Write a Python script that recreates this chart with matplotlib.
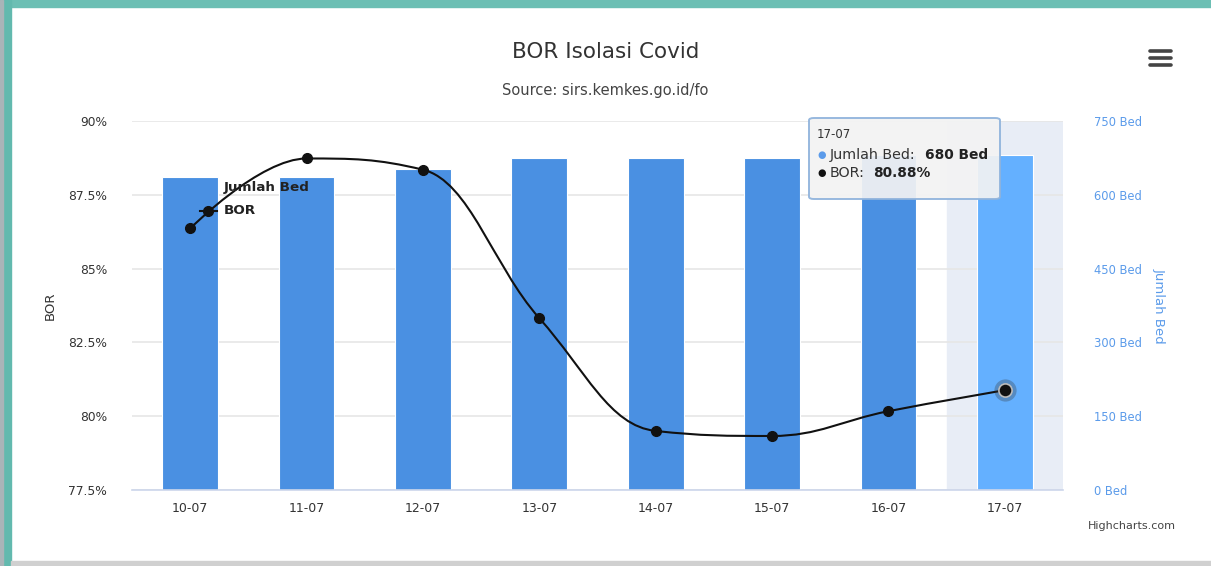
import matplotlib
matplotlib.use('Agg')
import matplotlib.pyplot as plt
import matplotlib.patches as mpatches
from matplotlib.path import Path
import numpy as np

plt.rcParams['font.family'] = ['DejaVu Sans']

# ---------------- data ----------------
dates = ['10-07', '11-07', '12-07', '13-07', '14-07', '15-07', '16-07', '17-07']
jumlah_bed = [637, 637, 652, 675, 675, 675, 680, 680]
bor = [86.36, 88.73, 88.35, 83.32, 79.50, 79.33, 80.17, 80.88]

bor_ticks = [77.5, 80, 82.5, 85, 87.5, 90]
bor_tick_labels = ['77.5%', '80%', '82.5%', '85%', '87.5%', '90%']
bed_ticks = [0, 150, 300, 450, 600, 750]
bed_tick_labels = ['0 Bed', '150 Bed', '300 Bed', '450 Bed', '600 Bed', '750 Bed']

W, H = 1211, 566
bar_color = '#4a90e2'
hover_color = '#64b0ff'
axis_blue = '#5b9bea'


def fx(px):
    return px / W


def fy(py):
    return 1 - py / H


def spline_path(xs, ys, smoothing=1.5):
    """cubic bezier path like the highcharts spline"""
    denom = smoothing + 1
    n = len(xs)
    right = [None] * n
    verts = [(xs[0], ys[0])]
    codes = [Path.MOVETO]
    for i in range(1, n):
        x, y = xs[i], ys[i]
        lc = None
        if i < n - 1:
            lx, ly = xs[i - 1], ys[i - 1]
            nx, ny = xs[i + 1], ys[i + 1]
            lcx = (smoothing * x + lx) / denom
            lcy = (smoothing * y + ly) / denom
            rcx = (smoothing * x + nx) / denom
            rcy = (smoothing * y + ny) / denom
            corr = (rcy - lcy) * (rcx - x) / (rcx - lcx) + y - rcy
            lcy += corr
            rcy += corr
            if lcy > ly and lcy > y:
                lcy = max(ly, y)
                rcy = 2 * y - lcy
            elif lcy < ly and lcy < y:
                lcy = min(ly, y)
                rcy = 2 * y - lcy
            if rcy > ny and rcy > y:
                rcy = max(ny, y)
                lcy = 2 * y - rcy
            elif rcy < ny and rcy < y:
                rcy = min(ny, y)
                lcy = 2 * y - rcy
            lc = (lcx, lcy)
            right[i] = (rcx, rcy)
        c1 = right[i - 1] if right[i - 1] is not None else (xs[i - 1], ys[i - 1])
        c2 = lc if lc is not None else (x, y)
        verts += [c1, c2, (x, y)]
        codes += [Path.CURVE4] * 3
    return Path(verts, codes)


fig = plt.figure(figsize=(W / 100, H / 100), dpi=100)
fig.patch.set_facecolor('white')

ax2 = fig.add_axes([fx(132), fy(490), fx(1063) - fx(132), fy(121) - fy(490)])
ax = ax2.twinx()
ax.set_zorder(ax2.get_zorder() + 1)
ax.patch.set_visible(False)
ax.yaxis.tick_left()
ax.yaxis.set_label_position('left')
ax2.yaxis.tick_right()
ax2.yaxis.set_label_position('right')

x = np.arange(len(dates))

# hover band + bars
ax2.axvspan(x[-1] - 0.5, x[-1] + 0.5, color='#e8edf6', zorder=0)
colors = [bar_color] * (len(dates) - 1) + [hover_color]
ax2.bar(x, jumlah_bed, width=0.48, color=colors, edgecolor='white', linewidth=0.8, zorder=2)

ax2.set_xlim(-0.5, len(dates) - 0.5)
ax2.set_ylim(0, 750)
ax2.set_yticks(bed_ticks)
ax2.set_yticklabels(bed_tick_labels)
ax2.grid(axis='y', color='#e6e6e6', linewidth=1.2, zorder=1)
ax2.set_axisbelow(True)
ax2.set_xticks(x)
ax2.set_xticklabels(dates)
ax2.tick_params(axis='x', length=0, pad=9, labelsize=9, labelcolor='#333333')
ax2.tick_params(axis='y', length=0, pad=22, labelsize=8.3, labelcolor=axis_blue)
ax2.set_ylabel('Jumlah Bed', color=axis_blue, fontsize=9.5, rotation=270, labelpad=17)
for s in ['top', 'left', 'right']:
    ax2.spines[s].set_visible(False)
ax2.spines['bottom'].set_color('#ccd6eb')
ax2.spines['bottom'].set_linewidth(1.2)

# BOR line
ax.set_ylim(77.5, 90)
ax.set_yticks(bor_ticks)
ax.set_yticklabels(bor_tick_labels)
ax.tick_params(axis='y', length=0, pad=18, labelsize=8.8, labelcolor='#333333')
ax.set_ylabel('BOR', fontsize=9.5, color='#333333', labelpad=8)
for s in ax.spines.values():
    s.set_visible(False)

ax.add_patch(mpatches.PathPatch(spline_path(list(x), bor), facecolor='none',
                                edgecolor='#111111', linewidth=1.5, zorder=3))
ax.plot(x, bor, linestyle='none', marker='o', markersize=7, color='#111111', zorder=4)
ax.plot(x[-1:], bor[-1:], linestyle='none', marker='o', markersize=16,
        color='#333333', alpha=0.3, markeredgewidth=0, zorder=4)
ax.plot(x[-1:], bor[-1:], linestyle='none', marker='o', markersize=9.5,
        color='#111111', markeredgecolor='#bbbbbb', markeredgewidth=1.2, zorder=5)

# legend (floating)
fig.add_artist(mpatches.Rectangle((fx(202), fy(193)), fx(12), fy(181) - fy(193), color=bar_color))
fig.text(fx(224), fy(187), 'Jumlah Bed', fontsize=9.7, fontweight='bold', color='#222222', va='center')
fig.add_artist(plt.Line2D([fx(200), fx(217)], [fy(211), fy(211)], color='#111111', linewidth=1.5))
fig.add_artist(plt.Line2D([fx(208)], [fy(211)], marker='o', markersize=7, color='#111111'))
fig.text(fx(224), fy(211), 'BOR', fontsize=9.7, fontweight='bold', color='#222222', va='center')

# titles
fig.text(0.5, fy(52), 'BOR Isolasi Covid', ha='center', va='center', fontsize=15.5, color='#333333')
fig.text(0.5, fy(91), 'Source: sirs.kemkes.go.id/fo', ha='center', va='center', fontsize=10.5, color='#444444')
fig.text(fx(1132), fy(526), 'Highcharts.com', ha='center', va='center', fontsize=8, color='#444444')

# tooltip
fig.add_artist(mpatches.FancyBboxPatch((fx(809), fy(199)), fx(1000) - fx(809), fy(118) - fy(199),
                                       boxstyle='round,pad=0,rounding_size=0.004',
                                       facecolor='#f3f3f3', edgecolor='#8fb3dc', alpha=0.92,
                                       linewidth=1.4, zorder=10))
fig.text(fx(817), fy(134), '17-07', fontsize=8.5, color='#333333', va='center', zorder=11)
fig.text(fx(817), fy(155), '\u25cf', fontsize=7, color=axis_blue, va='center', zorder=11)
fig.text(fx(830), fy(155), 'Jumlah Bed:', fontsize=10.3, color='#333333', va='center', zorder=11)
fig.text(fx(925), fy(155), '680 Bed', fontsize=9.9, fontweight='bold', color='#222222', va='center', zorder=11)
fig.text(fx(817), fy(173), '\u25cf', fontsize=7, color='#111111', va='center', zorder=11)
fig.text(fx(830), fy(173), 'BOR:', fontsize=10.3, color='#333333', va='center', zorder=11)
fig.text(fx(873), fy(173), '80.88%', fontsize=9.9, fontweight='bold', color='#222222', va='center', zorder=11)

# menu icon
for yy in [51, 58, 65]:
    fig.add_artist(plt.Line2D([fx(1150), fx(1171)], [fy(yy), fy(yy)], color='#444444',
                              linewidth=2.6, solid_capstyle='round'))

# screenshot frame
fig.add_artist(mpatches.Rectangle((0, fy(7)), 1, fy(0) - fy(7), color='#6cbfb4', zorder=0))
fig.add_artist(mpatches.Rectangle((0, 0), fx(11), 1, color='#62b9ae', zorder=0))
fig.add_artist(mpatches.Rectangle((0, 0), fx(3), 1, color='#a9b4b8', zorder=0))
fig.add_artist(mpatches.Rectangle((fx(11), 0), 1, fy(561), color='#d0d0d0', zorder=0))

fig.savefig('out.png', dpi=100)
